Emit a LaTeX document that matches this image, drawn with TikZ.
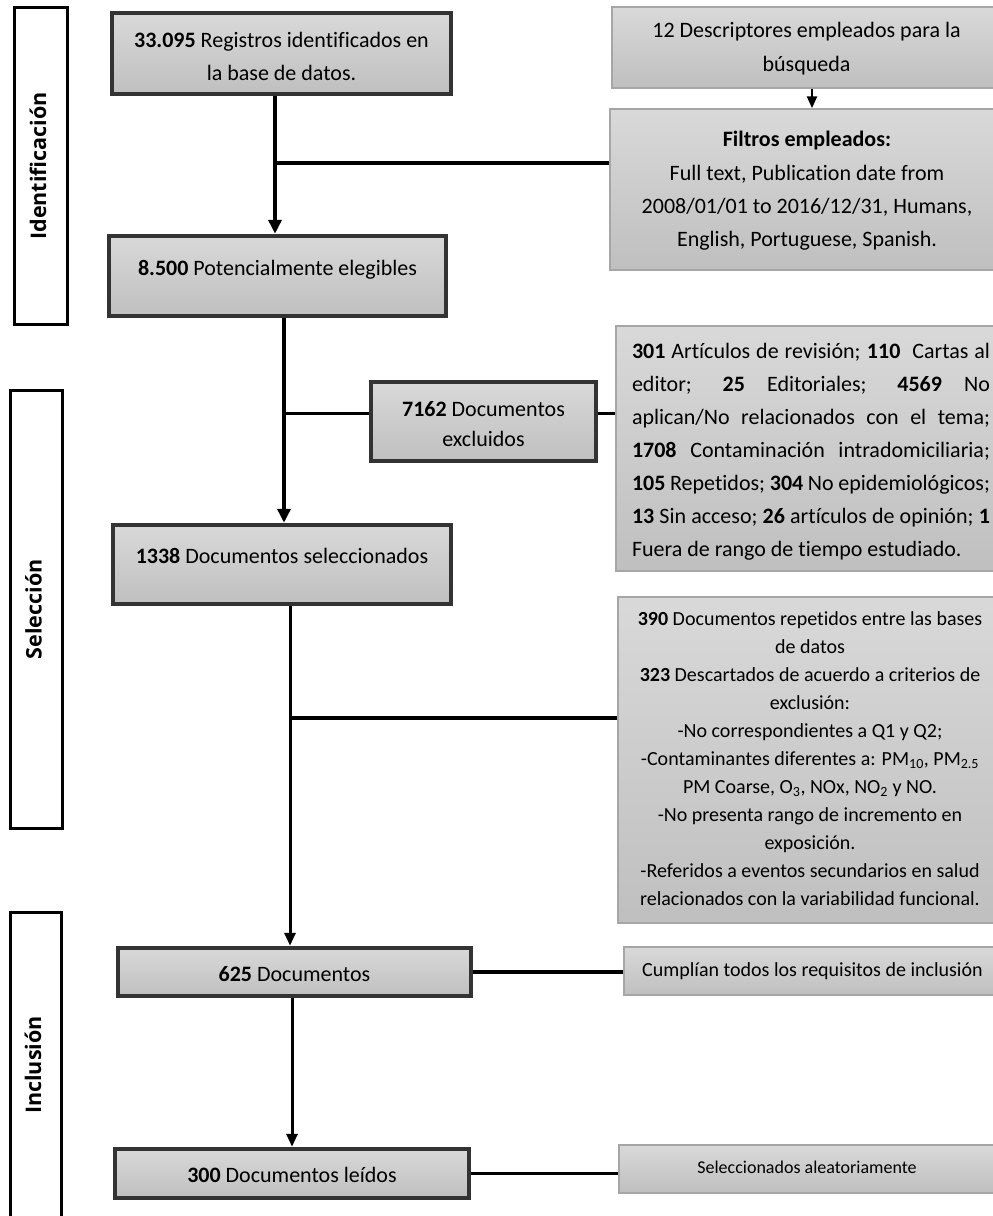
\documentclass[tikz,border=0pt]{standalone}
\usepackage{fontspec}
\setmainfont{Carlito}[Ligatures=NoCommon]
\newfontfamily\labfont{Open Sans}
\usetikzlibrary{arrows.meta}
\newcommand\boxtext[3]{\raisebox{#1}[0pt][0pt]{\parbox[t]{#2}{\centering #3}}}
\newcommand\phlabel[1]{\raisebox{3pt}[\height][\depth]{#1}}
\tikzset{
 darkbox/.style={draw=black!80, line width=4.5pt, top color=gray!30, bottom color=gray!50, inner sep=0pt, font=\fontsize{22}{33.3}\selectfont},
 lightbox/.style={draw=black!35, line width=1.5pt, top color=gray!30, bottom color=gray!50, inner sep=0pt, font=\fontsize{22}{33.3}\selectfont},
 phase/.style={draw=black, line width=3pt, fill=white, rotate=90, inner sep=0pt, font=\labfont\bfseries\fontsize{21.5}{26}\selectfont},
 bigarrow/.style={line width=4.5pt, -{Triangle[width=13pt,length=14pt]}},
 midarrow/.style={line width=3pt, -{Triangle[width=11pt,length=13pt]}},
 smallarrow/.style={line width=2.5pt, -{Triangle[width=10pt,length=12pt]}},
 link/.style={line width=3.5pt},
}
\begin{document}
\begin{tikzpicture}[x=1pt,y=-1pt]
\useasboundingbox (0,0) rectangle (993,1216);
% phase boxes
\node[phase, minimum width=317pt, minimum height=53pt] (ph1) at (41,166) {\phlabel{Identificación}};
\node[phase, minimum width=438pt, minimum height=52pt] (ph2) at (36.5,609.5) {\phlabel{Selección}};
\node[phase, minimum width=305pt, minimum height=51pt] (ph3) at (36,1065) {\phlabel{Inclusión}};
% main flow boxes
\node[darkbox, minimum width=339pt, minimum height=81pt] (b1) at (281.5,53.5) {\boxtext{6.5pt}{330pt}{\textbf{33.095} Registros identificados en\\ la base de datos.}};
\node[darkbox, minimum width=337pt, minimum height=80pt] (b2) at (277.5,276) {\boxtext{1pt}{330pt}{\textbf{8.500} Potencialmente elegibles}};
\node[darkbox, minimum width=338pt, minimum height=79pt] (b3) at (282,564.5) {\boxtext{1.2pt}{330pt}{\textbf{1338} Documentos seleccionados}};
\node[darkbox, minimum width=225pt, minimum height=79pt] (b4) at (483.5,421.5) {\boxtext{4.8pt}{218pt}{\fontsize{22}{30}\selectfont\textbf{7162} Documentos\\ excluidos}};
\node[darkbox, minimum width=353pt, minimum height=48pt] (b5) at (294.5,972) {\boxtext{-9.7pt}{345pt}{\textbf{625} Documentos}};
\node[darkbox, minimum width=354pt, minimum height=49pt] (b6) at (292,1173.5) {\boxtext{-8.5pt}{345pt}{\textbf{300} Documentos leídos}};
% right boxes
\node[lightbox, minimum width=389pt, minimum height=81pt] (r1) at (806.5,47.5) {\boxtext{9.8pt}{380pt}{\fontsize{22}{34}\selectfont 12 Descriptores empleados para la\\ búsqueda}};
\node[lightbox, minimum width=394pt, minimum height=161pt] (r2) at (807,189.5) {\boxtext{42.8pt}{385pt}{\textbf{Filtros empleados:}\\ Full text, Publication date from\\ 2008/01/01 to 2016/12/31, Humans,\\ English, Portuguese, Spanish.}};
\node[lightbox, minimum width=390pt, minimum height=245pt] (r3) at (811,448.5) {\raisebox{90.2pt}[0pt][0pt]{\parbox[t]{358pt}{\fontsize{22}{33.07}\selectfont
\makebox[358pt][s]{\textbf{301} Artículos de revisión; \textbf{110}\hspace{6pt} Cartas al}\\
\makebox[358pt][s]{editor; \textbf{25} Editoriales; \textbf{4569} No}\\
\makebox[358pt][s]{aplican/No relacionados con el tema;}\\
\makebox[358pt][s]{\textbf{1708} Contaminación intradomiciliaria;}\\
\makebox[358pt][s]{\textbf{105} Repetidos; \textbf{304} No epidemiológicos;}\\
\makebox[358pt][s]{\textbf{13} Sin acceso; \textbf{26} artículos de opinión; \textbf{1}}\\
\makebox[358pt][l]{Fuera de rango de tiempo estudiado.}}}};
\node[lightbox, minimum width=384pt, minimum height=326pt] (r4) at (810,760) {\boxtext{134.8pt}{376pt}{\fontsize{20}{28.07}\selectfont \textbf{390} Documentos repetidos entre las bases\\ de datos\\ \textbf{323} Descartados de acuerdo a criterios de\\ exclusión:\\ -No correspondientes a Q1 y Q2;\\ -Contaminantes diferentes a: PM\textsubscript{10}, PM\textsubscript{2.5}\\ PM Coarse, O\textsubscript{3}, NOx, NO\textsubscript{2} y NO.\\ -No presenta rango de incremento en\\ exposición.\\ -Referidos a eventos secundarios en salud\\ relacionados con la variabilidad funcional.}};
\node[lightbox, minimum width=377pt, minimum height=48pt] (r5) at (812.5,971) {\boxtext{-5.7pt}{370pt}{\fontsize{20}{24}\selectfont Cumplían todos los requisitos de inclusión}};
\node[lightbox, minimum width=376pt, minimum height=48pt] (r6) at (807,1169) {\boxtext{-4.3pt}{370pt}{\fontsize{18}{22}\selectfont Seleccionados aleatoriamente}};
% connectors
\coordinate (j1) at (275,163);
\draw[bigarrow] (b1.south -| j1) -- (b2.north -| j1);
\draw[link] (j1) -- (r2.west |- j1);
\coordinate (j2) at (284,413.5);
\draw[bigarrow] (b2.south -| j2) -- (b3.north -| j2);
\draw[link] (j2) -- (b4.west |- j2);
\draw[link] (b4.east |- j2) -- (r3.west |- j2);
\coordinate (j3) at (290,718);
\draw[midarrow] (b3.south -| j3) -- (b5.north -| j3);
\draw[link] (j3) -- (r4.west |- j3);
\coordinate (j4) at (292,1070);
\draw[midarrow] (b5.south -| j4) -- (b6.north -| j4);
\draw[link] (b5.east) -- (r5.west |- b5.east);
\draw[link] (b6.east) -- (r6.west |- b6.east);
\coordinate (j5) at (812,100);
\draw[smallarrow] (r1.south -| j5) -- (r2.north -| j5);
\end{tikzpicture}
\end{document}
